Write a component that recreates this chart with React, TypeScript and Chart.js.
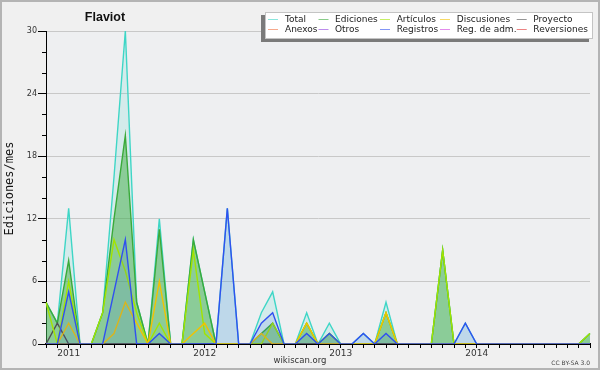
import React, { useEffect, useRef } from "react";
import { Chart, registerables } from "chart.js";

Chart.register(...registerables);

const months = [
  "2010-11", "2010-12",
  "2011-01", "2011-02", "2011-03", "2011-04", "2011-05", "2011-06", "2011-07", "2011-08", "2011-09", "2011-10", "2011-11", "2011-12",
  "2012-01", "2012-02", "2012-03", "2012-04", "2012-05", "2012-06", "2012-07", "2012-08", "2012-09", "2012-10", "2012-11", "2012-12",
  "2013-01", "2013-02", "2013-03", "2013-04", "2013-05", "2013-06", "2013-07", "2013-08", "2013-09", "2013-10", "2013-11", "2013-12",
  "2014-01", "2014-02", "2014-03", "2014-04", "2014-05", "2014-06", "2014-07", "2014-08", "2014-09", "2014-10", "2014-11",
];

const seriesNames = ["Total", "Ediciones", "Artículos", "Discusiones", "Proyecto", "Anexos", "Otros", "Registros", "Reg. de adm.", "Reversiones"];

const total =       [4, 2, 13, 0, 0, 3, 16, 30, 4, 0, 12, 0, 0, 10, 5, 0, 13, 0, 0, 3, 5, 0, 0, 3, 0, 2, 0, 0, 1, 0, 4, 0, 0, 0, 0, 9, 0, 2, 0, 0, 0, 0, 0, 0, 0, 0, 0, 0, 1];
const ediciones =   [4, 2, 8, 0, 0, 3, 12, 20, 4, 0, 11, 0, 0, 10, 5, 0, 0, 0, 0, 1, 2, 0, 0, 2, 0, 1, 0, 0, 0, 0, 3, 0, 0, 0, 0, 9, 0, 0, 0, 0, 0, 0, 0, 0, 0, 0, 0, 0, 1];
const articulos =   [4, 0, 6, 0, 0, 3, 10, 7, 3, 0, 2, 0, 0, 9, 1, 0, 0, 0, 0, 0, 2, 0, 0, 2, 0, 1, 0, 0, 0, 0, 3, 0, 0, 0, 0, 9, 0, 0, 0, 0, 0, 0, 0, 0, 0, 0, 0, 0, 1];
const discusiones = [0, 0, 2, 0, 0, 0, 1, 4, 2, 0, 6, 0, 0, 1, 2, 0, 0, 0, 0, 1, 0, 0, 0, 2, 0, 0, 0, 0, 0, 0, 3, 0, 0, 0, 0, 0, 0, 0, 0, 0, 0, 0, 0, 0, 0, 0, 0, 0, 0];
const proyecto =    [0, 2, 0, 0, 0, 0, 0, 0, 0, 0, 0, 0, 0, 0, 0, 0, 0, 0, 0, 0, 0, 0, 0, 0, 0, 0, 0, 0, 0, 0, 0, 0, 0, 0, 0, 0, 0, 0, 0, 0, 0, 0, 0, 0, 0, 0, 0, 0, 0];
const anexos =      [0, 0, 0, 0, 0, 0, 0, 0, 0, 0, 0, 0, 0, 0, 0, 0, 0, 0, 0, 0, 0, 0, 0, 0, 0, 0, 0, 0, 0, 0, 0, 0, 0, 0, 0, 0, 0, 0, 0, 0, 0, 0, 0, 0, 0, 0, 0, 0, 0];
const otros =       [0, 0, 0, 0, 0, 0, 0, 0, 0, 0, 0, 0, 0, 0, 0, 0, 0, 0, 0, 0, 0, 0, 0, 0, 0, 0, 0, 0, 0, 0, 0, 0, 0, 0, 0, 0, 0, 0, 0, 0, 0, 0, 0, 0, 0, 0, 0, 0, 0];
const registros =   [0, 0, 5, 0, 0, 0, 5, 10, 0, 0, 1, 0, 0, 0, 0, 0, 13, 0, 0, 2, 3, 0, 0, 1, 0, 1, 0, 0, 1, 0, 1, 0, 0, 0, 0, 0, 0, 2, 0, 0, 0, 0, 0, 0, 0, 0, 0, 0, 0];
const regAdm =      [0, 0, 0, 0, 0, 0, 0, 0, 0, 0, 0, 0, 0, 0, 0, 0, 0, 0, 0, 0, 0, 0, 0, 0, 0, 0, 0, 0, 0, 0, 0, 0, 0, 0, 0, 0, 0, 0, 0, 0, 0, 0, 0, 0, 0, 0, 0, 0, 0];
const reversiones = [0, 0, 0, 0, 0, 0, 0, 0, 0, 0, 0, 0, 0, 0, 0, 0, 0, 0, 0, 0, 0, 0, 0, 0, 0, 0, 0, 0, 0, 0, 0, 0, 0, 0, 0, 0, 0, 0, 0, 0, 0, 0, 0, 0, 0, 0, 0, 0, 0];

const yMax = 30;
const yStep = 6;
const yMinorStep = 2;

const TITLE = "Flaviot";
const Y_TITLE = "Ediciones/mes";
const FOOTER = "wikiscan.org";
const LICENSE = "CC BY-SA 3.0";

const lineColors = ["#3ed6c6", "#3aaa3a", "#a2e400", "#f2c200", "#505050", "#f07040", "#9040e0", "#3050f0", "#d040e0", "#e03030"];

const decor = {
  id: "decor",
  beforeDraw(chart: any) {
    const { ctx, chartArea: a, width, height } = chart;
    ctx.save();
    ctx.fillStyle = "#f0f0f0";
    ctx.fillRect(0, 0, width, height);
    ctx.fillStyle = "#eeeff1";
    ctx.fillRect(a.left, a.top, a.right - a.left, a.bottom - a.top);
    ctx.restore();
  },
  afterDraw(chart: any) {
    const { ctx, chartArea: a, width, height } = chart;
    const ys = chart.scales.y;
    ctx.save();
    // minor ticks on y axis
    ctx.strokeStyle = "#000";
    ctx.lineWidth = 1;
    ctx.beginPath();
    for (let v = 0; v <= yMax; v += yMinorStep) {
      if (v % yStep === 0) continue;
      const py = Math.round(ys.getPixelForValue(v)) + 0.5;
      ctx.moveTo(a.left - 4, py);
      ctx.lineTo(a.left, py);
    }
    ctx.stroke();

    // frame
    ctx.strokeStyle = "#b4b4b4";
    ctx.lineWidth = 2;
    ctx.strokeRect(1, 1, width - 2, height - 2);

    // title
    ctx.fillStyle = "#111";
    ctx.font = "bold 12.5px 'Liberation Sans', Arial, sans-serif";
    ctx.textAlign = "center";
    ctx.textBaseline = "alphabetic";
    ctx.fillText(TITLE, 105, 21);

    // y title
    ctx.save();
    ctx.translate(12.7, 188.5);
    ctx.rotate(-Math.PI / 2);
    ctx.font = "12px 'DejaVu Sans Mono', monospace";
    ctx.fillStyle = "#111";
    ctx.textAlign = "center";
    ctx.fillText(Y_TITLE, 0, 0);
    ctx.restore();

    // footers
    ctx.font = "8.5px 'DejaVu Sans', sans-serif";
    ctx.fillStyle = "#333";
    ctx.textAlign = "center";
    ctx.fillText(FOOTER, 300, 363);
    ctx.font = "6px 'DejaVu Sans', sans-serif";
    ctx.textAlign = "right";
    ctx.fillStyle = "#444";
    ctx.fillText(LICENSE, 590, 365);

    // legend
    const bx = 265, by = 12, bw = 328, bh = 27;
    ctx.fillStyle = "#7a7a7a";
    ctx.fillRect(bx - 4, by + 3, bw, bh);
    ctx.fillStyle = "#ffffff";
    ctx.fillRect(bx, by, bw, bh);
    ctx.strokeStyle = "#c4c4c4";
    ctx.lineWidth = 1;
    ctx.strokeRect(bx + 0.5, by + 0.5, bw - 1, bh - 1);

    const lineX = [268, 318.5, 380, 440, 516.7];
    const textX = [285, 335, 396.7, 456.7, 533.3];
    const rowY = [19, 29];
    ctx.font = "9px 'DejaVu Sans', sans-serif";
    ctx.textAlign = "left";
    ctx.textBaseline = "middle";
    chart.data.datasets.forEach((ds: any, i: number) => {
      const col = i % 5;
      const row = Math.floor(i / 5);
      const y = rowY[row] + 0.5;
      ctx.globalAlpha = 0.6;
      ctx.strokeStyle = ds.borderColor;
      ctx.lineWidth = 1;
      ctx.beginPath();
      ctx.moveTo(lineX[col], y);
      ctx.lineTo(lineX[col] + 10, y);
      ctx.stroke();
      ctx.globalAlpha = 1;
      ctx.fillStyle = "#222";
      ctx.fillText(ds.label, textX[col], rowY[row] + 0.5);
    });
    ctx.restore();
  },
};

export default function App() {
  const ref = useRef<HTMLCanvasElement | null>(null);

  useEffect(() => {
    if (!ref.current) return;
    const values = [total, ediciones, articulos, discusiones, proyecto, anexos, otros, registros, regAdm, reversiones];
    const fills: (string | false)[] = [
      "rgba(64,216,200,0.15)",
      "rgba(60,170,60,0.48)",
      false, false, false, false, false,
      "rgba(48,90,235,0.13)",
      false, false,
    ];
    const orders = [9, 8, 6, 5, 7, 13, 12, 4, 11, 10];
    const chart = new Chart(ref.current, {
      type: "line",
      data: {
        labels: months,
        datasets: seriesNames.map((name, i) => ({
          label: name,
          data: values[i],
          borderColor: lineColors[i],
          backgroundColor: fills[i] || "transparent",
          fill: fills[i] ? "origin" : false,
          borderWidth: 1.4,
          pointRadius: 0,
          tension: 0,
          order: orders[i],
        })),
      },
      options: {
        responsive: false,
        animation: false,
        devicePixelRatio: 1,
        events: [],
        layout: { padding: { top: 31, right: 10, left: 0, bottom: 0 } },
        plugins: {
          legend: { display: false },
          title: { display: false },
          tooltip: { enabled: false },
        },
        scales: {
          x: {
            type: "category",
            z: 1,
            offset: false,
            afterFit: (s: any) => { s.height = 26; },
            grid: { drawOnChartArea: false, drawTicks: true, tickLength: 4, tickColor: "#000", tickWidth: 1 },
            border: { display: true, color: "#000", width: 2 },
            ticks: {
              autoSkip: false,
              maxRotation: 0,
              minRotation: 0,
              padding: 0,
              color: "#333",
              font: { family: "'DejaVu Sans', sans-serif", size: 9 },
              callback: (_v: any, idx: number) => (months[idx].endsWith("-01") ? months[idx].slice(0, 4) : ""),
            },
          },
          y: {
            min: 0,
            max: yMax,
            afterFit: (s: any) => { s.width = 46; },
            grid: { color: "#c8c8c8", lineWidth: 1, tickLength: 8, tickColor: "#000", tickWidth: 1 },
            border: { display: true, color: "#000", width: 1 },
            ticks: {
              stepSize: yStep,
              padding: 1,
              color: "#333",
              font: { family: "'DejaVu Sans', sans-serif", size: 8 },
            },
          },
        },
      },
      plugins: [decor],
    });
    return () => chart.destroy();
  }, []);

  return (
    <div style={{ position: "absolute", left: 0, top: 0, width: 600, height: 370 }}>
      <canvas ref={ref} width={600} height={370} style={{ display: "block", width: 600, height: 370 }} />
    </div>
  );
}
